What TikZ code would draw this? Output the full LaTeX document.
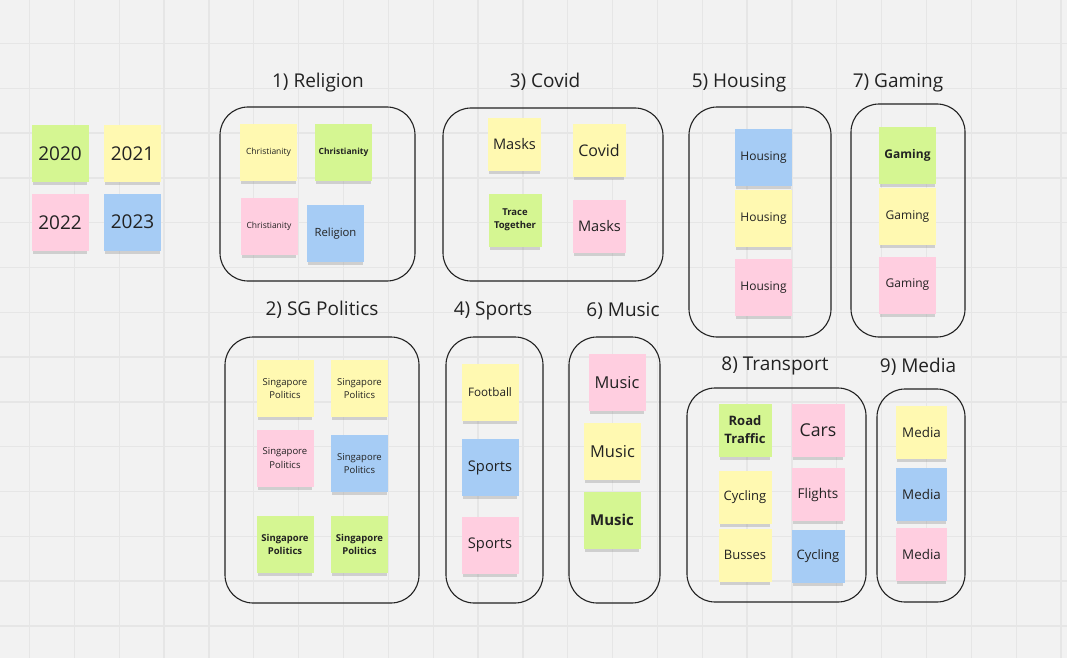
\documentclass[tikz,border=0pt]{standalone}
\usepackage{fontspec}
\setmainfont{Open Sans}
\usetikzlibrary{shadows}

\definecolor{bgc}{HTML}{F2F2F2}
\definecolor{gridc}{HTML}{E6E6E6}
\definecolor{noteY}{HTML}{FFF9B1}
\definecolor{noteG}{HTML}{D5F692}
\definecolor{noteP}{HTML}{FFCEE0}
\definecolor{noteB}{HTML}{A6CCF5}
\definecolor{ink}{HTML}{222222}

\newcommand{\fsz}[1]{\fontsize{#1pt}{\dimexpr #1pt*138/100\relax}\selectfont}

\begin{document}
\begin{tikzpicture}[
	x=1pt, y=-1pt,
	st/.style = {rectangle, inner sep=0, minimum width=57, minimum height=57, align=center, text=ink,
		drop shadow={shadow xshift=0pt, shadow yshift=-4.5pt, opacity=0.3, shadow scale=0.96}},
	sy/.style = {st, fill=noteY},
	sg/.style = {st, fill=noteG},
	sp/.style = {st, fill=noteP},
	sb/.style = {st, fill=noteB},
	sm/.style = {minimum width=53, minimum height=53},
	grp/.style = {rectangle, draw=ink, line width=1.1pt, rounded corners=28pt, inner sep=0},
	ttl/.style = {font=\fsz{19}, text=ink, inner sep=0},
	gridline/.style = {draw=gridc, line width=1.3pt}
	]
	
	\useasboundingbox (0,0) rectangle (1067,658);
	\fill[bgc] (0,0) rectangle (1067,658);
	\foreach \i in {0,...,23}	\draw[gridline] ({29.5+44.85*\i},0) -- ++(0,658);
	\foreach \j in {0,...,14}	\draw[gridline] (0,{43.5+44.8*\j}) -- ++(1067,0);
	
	% ===== ===== ===== ===== =====
	
	% Years
	\node[sg, font=\fsz{19}]	(y20)	at	(60, 153.5)		{2020};
	\node[sy, font=\fsz{19}]	(y21)	at	(132.5, 153.5)	{2021};
	\node[sp, font=\fsz{19}]	(y22)	at	(60, 222.5)		{2022};
	\node[sb, font=\fsz{19}]	(y23)	at	(132.5, 222)	{2023};
	
	% ===== ===== ===== ===== =====
	
	% Boxes
	\node[grp, minimum width=195, minimum height=174]	(relB)	at	(317.5, 194)	{};
	\node[grp, minimum width=220, minimum height=173]	(covB)	at	(553, 194.5)	{};
	\node[grp, minimum width=142, minimum height=230]	(houB)	at	(760, 222)		{};
	\node[grp, minimum width=114, minimum height=233]	(gamB)	at	(908, 220.5)	{};
	\node[grp, minimum width=194, minimum height=266]	(sgpB)	at	(322, 470)		{};
	\node[grp, minimum width=97, minimum height=266]	(spoB)	at	(494.5, 470)	{};
	\node[grp, minimum width=91, minimum height=266]	(musB)	at	(614.5, 470)	{};
	\node[grp, minimum width=179, minimum height=214]	(traB)	at	(776.5, 495)	{};
	\node[grp, minimum width=88, minimum height=213]	(medB)	at	(921, 495.5)	{};
	
	% Titles
	\node[ttl]	(relT)	at	(318, 83)	{1) Religion};
	\node[ttl]	(covT)	at	(545, 82)	{3) Covid};
	\node[ttl]	(houT)	at	(739, 83)	{5) Housing};
	\node[ttl]	(gamT)	at	(898, 83)	{7) Gaming};
	\node[ttl]	(sgpT)	at	(322, 310)	{2) SG Politics};
	\node[ttl]	(spoT)	at	(493, 311)	{4) Sports};
	\node[ttl]	(musT)	at	(623, 311)	{6) Music};
	\node[ttl]	(traT)	at	(775, 366)	{8) Transport};
	\node[ttl]	(medT)	at	(918, 367)	{9) Media};
	
	% ===== ===== ===== ===== =====
	
	% 1) Religion
	\node[sy, font=\fsz{8.5}]	(rel1)	at	(268.5, 152)	{Christianity};
	\node[sg, font=\fsz{8.5}]	(rel2)	at	(343.5, 152)	{\bfseries Christianity};
	\node[sp, font=\fsz{8.5}]	(rel3)	at	(269, 226.5)	{Christianity};
	\node[sb, font=\fsz{11.3}]	(rel4)	at	(335.5, 233.5)	{Religion};
	
	% 3) Covid
	\node[sy, sm, font=\fsz{14.6}]	(cov1)	at	(514.5, 144.5)	{Masks};
	\node[sy, sm, font=\fsz{16}]	(cov2)	at	(599, 150.5)	{Covid};
	\node[sg, sm, font=\fsz{9.5}]	(cov3)	at	(515, 220)		{\bfseries Trace\\\bfseries Together};
	\node[sp, sm, font=\fsz{14.6}]	(cov4)	at	(599.5, 226)	{Masks};
	
	% 5) Housing
	\node[sb, font=\fsz{12}]	(hou1)	at	(763.5, 157.5)	{Housing};
	\node[sy, font=\fsz{12}]	(hou2)	at	(763.5, 218.5)	{Housing};
	\node[sp, font=\fsz{12}]	(hou3)	at	(763.5, 287.5)	{Housing};
	
	% 7) Gaming
	\node[sg, font=\fsz{12}]	(gam1)	at	(907.5, 155.5)	{\bfseries Gaming};
	\node[sy, font=\fsz{12}]	(gam2)	at	(907.5, 216.5)	{Gaming};
	\node[sp, font=\fsz{12}]	(gam3)	at	(907.5, 285)	{Gaming};
	
	% 2) SG Politics
	\node[sy, font=\fsz{9.5}]	(sgp1)	at	(285, 388.5)	{Singapore\\Politics};
	\node[sy, font=\fsz{9.5}]	(sgp2)	at	(359.5, 388.5)	{Singapore\\Politics};
	\node[sp, font=\fsz{9.5}]	(sgp3)	at	(285, 458)		{Singapore\\Politics};
	\node[sb, font=\fsz{9.5}]	(sgp4)	at	(359.5, 463.5)	{Singapore\\Politics};
	\node[sg, font=\fsz{9.5}]	(sgp5)	at	(285, 544.5)	{\bfseries Singapore\\\bfseries Politics};
	\node[sg, font=\fsz{9.5}]	(sgp6)	at	(359.5, 544.5)	{\bfseries Singapore\\\bfseries Politics};
	
	% 4) Sports
	\node[sy, font=\fsz{11.7}]	(spo1)	at	(490, 392.5)	{Football};
	\node[sb, font=\fsz{14.7}]	(spo2)	at	(490, 467.5)	{Sports};
	\node[sp, font=\fsz{14.7}]	(spo3)	at	(490, 545)		{Sports};
	
	% 6) Music
	\node[sp, font=\fsz{16.4}]	(mus1)	at	(617, 382.5)	{Music};
	\node[sy, font=\fsz{16.4}]	(mus2)	at	(612.5, 451.5)	{Music};
	\node[sg, font=\fsz{15}]	(mus3)	at	(612, 520)		{\bfseries Music};
	
	% 8) Transport
	\node[sg, sm, font=\fsz{13}]	(tra1)	at	(745, 430)		{\bfseries Road\\\bfseries Traffic};
	\node[sp, sm, font=\fsz{17.7}]	(tra2)	at	(818, 430)		{Cars};
	\node[sy, sm, font=\fsz{13}]	(tra3)	at	(745, 497)		{Cycling};
	\node[sp, sm, font=\fsz{13.5}]	(tra4)	at	(818, 494.5)	{Flights};
	\node[sy, sm, font=\fsz{13}]	(tra5)	at	(745, 555)		{Busses};
	\node[sb, sm, font=\fsz{13}]	(tra6)	at	(818, 556)		{Cycling};
	
	% 9) Media
	\node[sy, sm, minimum width=51, font=\fsz{13.4}]	(med1)	at	(921.5, 432.5)	{Media};
	\node[sb, sm, minimum width=51, font=\fsz{13.4}]	(med2)	at	(921.5, 494)	{Media};
	\node[sp, sm, minimum width=51, font=\fsz{13.4}]	(med3)	at	(921.5, 554)	{Media};
	
\end{tikzpicture}
\end{document}
